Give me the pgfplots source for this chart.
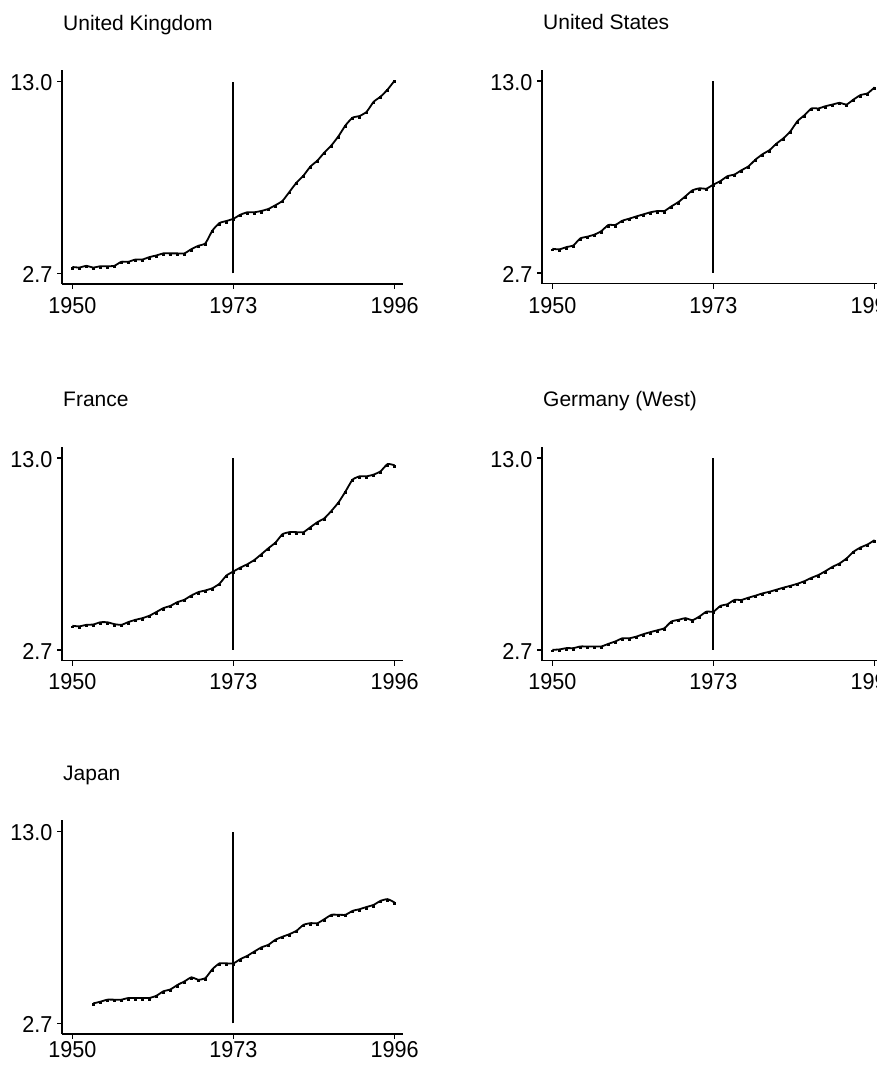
\documentclass[border=0pt]{standalone}
\usepackage{fontspec}
\setmainfont{Liberation Sans}
\newfontfamily\tickfont[FakeStretch=0.94]{Liberation Sans}
\usepackage{pgfplots}
\pgfplotsset{compat=1.18}
\pgfplotsset{
  panel/.style={
    scale only axis, width=341pt, height=214pt,
    xmin=1948.53, xmax=1997.2, ymin=2.125, ymax=13.62,
    axis lines=left, axis line style={-, line width=1.9pt, black},
    xtick={1950,1973,1996}, xticklabels={1950,1973,1996},
    ytick={2.7,13.0}, yticklabels={2.7,13.0},
    tick align=outside, major tick length=5pt,
    tick style={line width=1.4pt, black},
    tick label style={font=\tickfont\fontsize{23}{27}\selectfont},
    xticklabel style={yshift=-5pt},
    yticklabel style={xshift=-1pt, yshift=-1.5pt},
    /pgf/number format/assume math mode=true,
    title style={font=\fontsize{21}{25}\selectfont, at={(rel axis cs:0,1)}, anchor=base west, yshift=34pt, xshift=1pt, inner sep=0pt},
    clip=false,
  },
  series/.style={black, line width=1.8pt, smooth, tension=0.3, mark=square*, mark size=0.5pt, mark options={yshift=-1.2pt}},
  yearline/.style={black, line width=2pt, mark=none},
}
\begin{document}
\begin{tikzpicture}
\useasboundingbox (0,0) rectangle (877pt,-1066pt);
\clip (0,0) rectangle (877pt,-1066pt);
% United Kingdom
\begin{axis}[panel, at={(62pt,-284pt)}, anchor=south west, title={United Kingdom}]
\addplot[yearline] coordinates {(1973,2.7) (1973,13.0)};
\addplot[series] table {
x y
1950 3.04
1951 3.01
1952 3.10
1953 3.01
1954 3.08
1955 3.08
1956 3.10
1957 3.32
1958 3.32
1959 3.44
1960 3.44
1961 3.57
1962 3.66
1963 3.77
1964 3.77
1965 3.77
1966 3.77
1967 4.00
1968 4.18
1969 4.31
1970 5.00
1971 5.40
1972 5.51
1973 5.63
1974 5.85
1975 5.98
1976 5.98
1977 6.05
1978 6.16
1979 6.36
1980 6.59
1981 7.08
1982 7.57
1983 7.95
1984 8.44
1985 8.76
1986 9.20
1987 9.58
1988 10.07
1989 10.65
1990 11.06
1991 11.15
1992 11.37
1993 11.91
1994 12.19
1995 12.57
1996 13.05
};
\end{axis}
% United States
\begin{axis}[panel, at={(542pt,-283.5pt)}, anchor=south west, title={United States}]
\addplot[yearline] coordinates {(1973,2.7) (1973,13.0)};
\addplot[series] table {
x y
1950 3.99
1951 3.96
1952 4.08
1953 4.17
1954 4.55
1955 4.64
1956 4.75
1957 4.94
1958 5.27
1959 5.27
1960 5.50
1961 5.61
1962 5.73
1963 5.84
1964 5.95
1965 6.02
1966 6.02
1967 6.27
1968 6.50
1969 6.81
1970 7.13
1971 7.24
1972 7.22
1973 7.44
1974 7.63
1975 7.89
1976 7.98
1977 8.21
1978 8.42
1979 8.78
1980 9.07
1981 9.29
1982 9.64
1983 9.93
1984 10.31
1985 10.85
1986 11.17
1987 11.53
1988 11.53
1989 11.65
1990 11.74
1991 11.83
1992 11.74
1993 12.01
1994 12.25
1995 12.34
1996 12.66
};
\end{axis}
% France
\begin{axis}[panel, at={(62pt,-660.5pt)}, anchor=south west, title={France}, xticklabel style={yshift=1pt}]
\addplot[yearline] coordinates {(1973,2.7) (1973,13.0)};
\addplot[series] table {
x y
1950 3.99
1951 3.96
1952 4.04
1953 4.06
1954 4.18
1955 4.18
1956 4.08
1957 4.04
1958 4.19
1959 4.31
1960 4.40
1961 4.53
1962 4.73
1963 4.94
1964 5.06
1965 5.26
1966 5.39
1967 5.62
1968 5.80
1969 5.89
1970 6.01
1971 6.25
1972 6.69
1973 6.91
1974 7.12
1975 7.30
1976 7.53
1977 7.84
1978 8.16
1979 8.46
1980 8.91
1981 9.02
1982 9.02
1983 9.02
1984 9.29
1985 9.56
1986 9.77
1987 10.17
1988 10.62
1989 11.21
1990 11.84
1991 12.02
1992 12.02
1993 12.11
1994 12.29
1995 12.68
1996 12.61
};
\end{axis}
% Germany (West)
\begin{axis}[panel, at={(542pt,-660.5pt)}, anchor=south west, title={Germany (West)}, xticklabel style={yshift=1pt}]
\addplot[yearline] coordinates {(1973,2.7) (1973,13.0)};
\addplot[series] table {
x y
1950 2.70
1951 2.72
1952 2.79
1953 2.79
1954 2.88
1955 2.88
1956 2.88
1957 2.88
1958 3.02
1959 3.15
1960 3.32
1961 3.32
1962 3.41
1963 3.54
1964 3.65
1965 3.75
1966 3.86
1967 4.22
1968 4.31
1969 4.40
1970 4.29
1971 4.49
1972 4.75
1973 4.75
1974 5.06
1975 5.15
1976 5.38
1977 5.38
1978 5.50
1979 5.61
1980 5.73
1981 5.82
1982 5.93
1983 6.04
1984 6.14
1985 6.25
1986 6.39
1987 6.57
1988 6.72
1989 6.93
1990 7.16
1991 7.34
1992 7.61
1993 7.97
1994 8.20
1995 8.36
1996 8.59
};
\end{axis}
% Japan
\begin{axis}[panel, at={(62pt,-1034pt)}, anchor=south west, title={Japan}, xticklabel style={yshift=6pt}]
\addplot[yearline] coordinates {(1973,2.7) (1973,13.0)};
\addplot[series] table {
x y
1953 3.77
1954 3.86
1955 3.97
1956 3.97
1957 3.97
1958 4.06
1959 4.06
1960 4.06
1961 4.06
1962 4.18
1963 4.42
1964 4.52
1965 4.76
1966 4.95
1967 5.17
1968 5.04
1969 5.13
1970 5.61
1971 5.92
1972 5.92
1973 5.92
1974 6.15
1975 6.33
1976 6.56
1977 6.78
1978 6.92
1979 7.19
1980 7.35
1981 7.49
1982 7.67
1983 7.99
1984 8.08
1985 8.08
1986 8.30
1987 8.53
1988 8.53
1989 8.53
1990 8.74
1991 8.83
1992 8.95
1993 9.06
1994 9.28
1995 9.37
1996 9.19
};
\end{axis}
\end{tikzpicture}
\end{document}
